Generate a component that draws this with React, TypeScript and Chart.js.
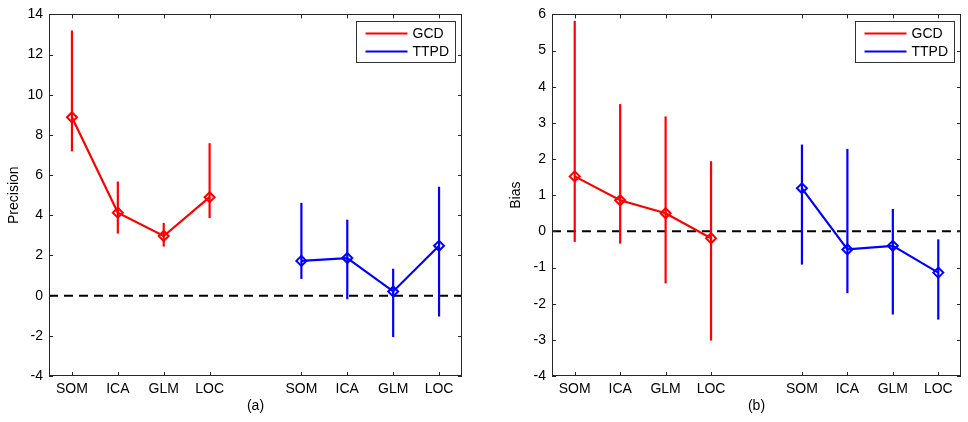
import { useEffect, useRef } from 'react';
import { Chart, registerables } from 'chart.js';

Chart.register(...registerables);

const categories = ['SOM', 'ICA', 'GLM', 'LOC'];
const gcdPositions = [1, 2, 3, 4];
const ttpdPositions = [6, 7, 8, 9];
const seriesNames = ['GCD', 'TTPD'];

const precisionGcd = [8.88, 4.13, 2.97, 4.9];
const precisionGcdLow = [7.18, 3.09, 2.44, 3.86];
const precisionGcdHigh = [13.2, 5.68, 3.62, 7.59];
const precisionTtpd = [1.73, 1.87, 0.21, 2.48];
const precisionTtpdLow = [0.83, -0.18, -2.06, -1.04];
const precisionTtpdHigh = [4.62, 3.78, 1.34, 5.42];

const biasGcd = [1.52, 0.86, 0.5, -0.19];
const biasGcdLow = [-0.29, -0.34, -1.44, -3.02];
const biasGcdHigh = [5.82, 3.52, 3.18, 1.94];
const biasTtpd = [1.19, -0.5, -0.4, -1.14];
const biasTtpdLow = [-0.92, -1.71, -2.3, -2.44];
const biasTtpdHigh = [2.4, 2.28, 0.62, -0.22];

const precisionTicks = [-4, -2, 0, 2, 4, 6, 8, 10, 12, 14];
const biasTicks = [-4, -3, -2, -1, 0, 1, 2, 3, 4, 5, 6];

const FONT = "'Liberation Sans', Arial, sans-serif";
const RED = '#ff0000';
const BLUE = '#0000ff';

const tickPositions = [...gcdPositions, ...ttpdPositions];
const tickLabels = [...categories, ...categories];

type PanelProps = {
  width: number;
  height: number;
  yAxisWidth: number;
  rightPad: number;
  yTitle: string;
  yTitleOffset: number;
  caption: string;
  yTicks: number[];
  gcd: number[];
  gcdLow: number[];
  gcdHigh: number[];
  ttpd: number[];
  ttpdLow: number[];
  ttpdHigh: number[];
};

function Panel(props: PanelProps) {
  const ref = useRef<HTMLCanvasElement | null>(null);
  useEffect(() => {
    if (!ref.current) return;
    const pts = (xs: number[], ys: number[]) => xs.map((x, i) => ({ x, y: ys[i] }));
    const errors = [
      { xs: gcdPositions, lo: props.gcdLow, hi: props.gcdHigh, color: RED },
      { xs: ttpdPositions, lo: props.ttpdLow, hi: props.ttpdHigh, color: BLUE },
    ];
    const yMin = props.yTicks[0];
    const yMax = props.yTicks[props.yTicks.length - 1];

    const framePlugin = {
      id: 'frame',
      afterDatasetsDraw(chart: any) {
        const ctx = chart.ctx;
        const xs = chart.scales.x;
        const ys = chart.scales.y;
        ctx.save();
        ctx.lineWidth = 2.2;
        ctx.lineCap = 'butt';
        errors.forEach((e) => {
          ctx.strokeStyle = e.color;
          e.xs.forEach((xv, i) => {
            const px = xs.getPixelForValue(xv);
            ctx.beginPath();
            ctx.moveTo(px, ys.getPixelForValue(e.lo[i]));
            ctx.lineTo(px, ys.getPixelForValue(e.hi[i]));
            ctx.stroke();
          });
        });
        ctx.restore();
      },
      afterDraw(chart: any) {
        const ctx = chart.ctx;
        const a = chart.chartArea;
        const xs = chart.scales.x;
        const ys = chart.scales.y;
        ctx.save();
        ctx.strokeStyle = '#262626';
        ctx.lineWidth = 1;
        ctx.strokeRect(Math.round(a.left) + 0.5, Math.round(a.top) + 0.5, Math.round(a.right - a.left) - 1, Math.round(a.bottom - a.top) - 1);
        const tl = 4;
        ctx.beginPath();
        tickPositions.forEach((v) => {
          const px = Math.round(xs.getPixelForValue(v)) + 0.5;
          ctx.moveTo(px, a.bottom);
          ctx.lineTo(px, a.bottom - tl);
          ctx.moveTo(px, a.top);
          ctx.lineTo(px, a.top + tl);
        });
        props.yTicks.forEach((v) => {
          const py = Math.round(ys.getPixelForValue(v)) + 0.5;
          ctx.moveTo(a.left, py);
          ctx.lineTo(a.left + tl, py);
          ctx.moveTo(a.right, py);
          ctx.lineTo(a.right - tl, py);
        });
        ctx.stroke();

        // legend
        const bw = 99;
        const bh = 41;
        const bx = Math.round(a.right - 7 - bw) + 0.5;
        const by = Math.round(a.top + 7) + 0.5;
        ctx.fillStyle = '#ffffff';
        ctx.fillRect(bx, by, bw, bh);
        ctx.strokeStyle = '#333333';
        ctx.strokeRect(bx, by, bw, bh);
        const colors = [RED, BLUE];
        ctx.font = `14px ${FONT}`;
        ctx.textBaseline = 'middle';
        ctx.textAlign = 'left';
        seriesNames.forEach((name, i) => {
          const ly = by + 12 + i * 18;
          ctx.strokeStyle = colors[i];
          ctx.lineWidth = 2.2;
          ctx.beginPath();
          ctx.moveTo(bx + 9, ly);
          ctx.lineTo(bx + 51, ly);
          ctx.stroke();
          ctx.fillStyle = '#000000';
          ctx.fillText(name, bx + 56, ly + 1);
        });
        ctx.restore();
      },
    };

    const chart = new Chart(ref.current, {
      type: 'line',
      data: {
        datasets: [
          {
            label: seriesNames[0],
            data: pts(gcdPositions, props.gcd),
            borderColor: RED,
            borderWidth: 2.2,
            pointStyle: 'rectRot',
            pointRadius: 5,
            pointBorderWidth: 2,
            pointBorderColor: RED,
            pointBackgroundColor: 'rgba(0,0,0,0)',
            order: 1,
          },
          {
            label: seriesNames[1],
            data: pts(ttpdPositions, props.ttpd),
            borderColor: BLUE,
            borderWidth: 2.2,
            pointStyle: 'rectRot',
            pointRadius: 5,
            pointBorderWidth: 2,
            pointBorderColor: BLUE,
            pointBackgroundColor: 'rgba(0,0,0,0)',
            order: 1,
          },
          {
            label: 'zero',
            data: [{ x: 0.5, y: 0 }, { x: 9.5, y: 0 }],
            borderColor: '#000000',
            borderWidth: 2,
            borderDash: [9, 6],
            pointRadius: 0,
            order: 2,
          },
        ],
      },
      options: {
        animation: false,
        responsive: false,
        events: [],
        layout: { padding: { left: 0, right: props.rightPad, top: 12, bottom: 0 } },
        plugins: { legend: { display: false }, tooltip: { enabled: false } },
        scales: {
          x: {
            type: 'linear',
            min: 0.5,
            max: 9.5,
            grid: { display: false, drawTicks: false, tickLength: 0 },
            border: { display: false },
            afterBuildTicks: (s: any) => {
              s.ticks = tickPositions.map((v) => ({ value: v }));
            },
            afterFit: (s: any) => {
              s.height = 46;
            },
            ticks: {
              autoSkip: false,
              maxRotation: 0,
              padding: 5,
              color: '#000000',
              font: { family: FONT, size: 14 },
              callback: (v: any) => {
                const idx = tickPositions.indexOf(Number(v));
                return idx >= 0 ? tickLabels[idx] : '';
              },
            },
            title: {
              display: true,
              text: props.caption,
              color: '#000000',
              font: { family: FONT, size: 14 },
              padding: { top: 0, bottom: 7 },
            },
          },
          y: {
            type: 'linear',
            min: yMin,
            max: yMax,
            grid: { display: false, drawTicks: false, tickLength: 0 },
            border: { display: false },
            afterBuildTicks: (s: any) => {
              s.ticks = props.yTicks.map((v) => ({ value: v }));
            },
            afterFit: (s: any) => {
              s.width = props.yAxisWidth;
            },
            ticks: {
              padding: 6,
              color: '#000000',
              font: { family: FONT, size: 14 },
            },
            title: {
              display: true,
              text: props.yTitle,
              color: '#000000',
              font: { family: FONT, size: 14 },
              padding: { top: props.yTitleOffset, bottom: 0 },
            },
          },
        },
      },
      plugins: [framePlugin],
    } as any);
    return () => chart.destroy();
  }, []);
  return <canvas ref={ref} width={props.width} height={props.height} style={{ display: 'block' }} />;
}

export default function App() {
  useEffect(() => {
    document.body.style.margin = '0';
  }, []);
  return (
    <div style={{ position: 'relative', width: 968, height: 422, background: '#ffffff' }}>
      <div style={{ position: 'absolute', left: 0, top: 0 }}>
        <Panel
          width={480}
          height={422}
          yAxisWidth={49}
          rightPad={18}
          yTitle="Precision"
          yTitleOffset={5.6}
          caption="(a)"
          yTicks={precisionTicks}
          gcd={precisionGcd}
          gcdLow={precisionGcdLow}
          gcdHigh={precisionGcdHigh}
          ttpd={precisionTtpd}
          ttpdLow={precisionTtpdLow}
          ttpdHigh={precisionTtpdHigh}
        />
      </div>
      <div style={{ position: 'absolute', left: 484, top: 0 }}>
        <Panel
          width={484}
          height={422}
          yAxisWidth={68}
          rightPad={1}
          yTitle="Bias"
          yTitleOffset={23.6}
          caption="(b)"
          yTicks={biasTicks}
          gcd={biasGcd}
          gcdLow={biasGcdLow}
          gcdHigh={biasGcdHigh}
          ttpd={biasTtpd}
          ttpdLow={biasTtpdLow}
          ttpdHigh={biasTtpdHigh}
        />
      </div>
    </div>
  );
}
